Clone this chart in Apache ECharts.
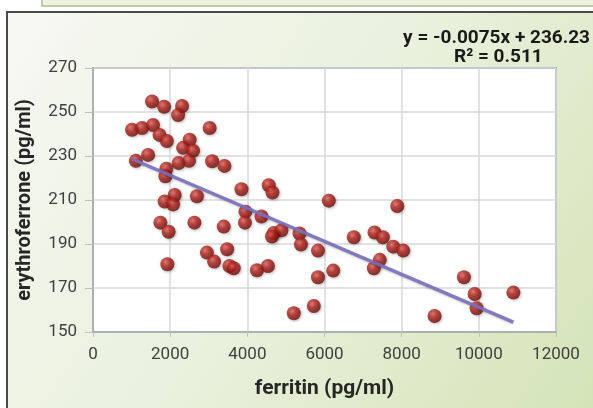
<!DOCTYPE html>
<html>
<head>
<meta charset="utf-8">
<script src="https://cdn.jsdelivr.net/npm/echarts@6/dist/echarts.min.js"></script>
<style>
  html, body { margin: 0; padding: 0; background: #fff; }
  #chart { width: 593px; height: 408px; }
</style>
</head>
<body>
<div id="chart"></div>
<script>
// ---- data ----
const ferritin = [
  1530, 1842, 2309, 2205, 1012, 1271, 1556, 1725, 1914, 3022,
  2506, 2335, 2594, 1427, 1110, 2220, 2490, 3087, 3406, 1901,
  1876, 2117, 1857, 2075, 2693, 3847, 4555, 4651, 1746, 1961,
  2628, 3388, 3951, 3938, 4366, 4685, 4885, 4638, 2952, 3139,
  3476, 3536, 3647, 4249, 4534, 1927, 6112, 7886, 5352, 5390,
  5831, 5831, 6226, 6760, 7297, 7512, 7782, 8041, 7434, 7279,
  5722, 5204, 8853, 9613, 9891, 9943, 10895
];
const erythroferrone = [
  254.8, 252.4, 252.7, 248.6, 241.9, 242.7, 244.1, 239.6, 236.8, 242.7,
  237.4, 233.7, 232.4, 230.5, 227.8, 226.8, 227.8, 227.6, 225.5, 224.2,
  220.8, 212.3, 209.3, 208.0, 211.7, 214.9, 216.7, 213.4, 199.7, 195.6,
  199.7, 197.9, 204.7, 199.7, 202.5, 195.0, 196.2, 193.4, 186.1, 182.0,
  187.6, 180.0, 179.0, 178.1, 180.0, 180.8, 209.7, 207.3, 194.8, 189.8,
  187.0, 174.9, 177.9, 193.1, 195.2, 193.1, 188.8, 187.0, 182.8, 179.0,
  161.8, 158.5, 157.3, 174.9, 167.3, 160.8, 167.9
];
// trendline as printed on the chart
const trendSlope = -0.0075;
const trendIntercept = 236.23;
const equationText = 'y = -0.0075x + 236.23';
const r2Text = 'R\u00B2 = 0.511';
// axes
const xRange = [0, 12000, 2000];
const yRange = [150, 270, 20];
const xTitle = 'ferritin (pg/ml)';
const yTitle = 'erythroferrone (pg/ml)';

const points = ferritin.map((x, i) => [x, erythroferrone[i]]);
const xMin = Math.min(...ferritin), xMax = Math.max(...ferritin);
const trend = [[xMin, trendSlope * xMin + trendIntercept], [xMax, trendSlope * xMax + trendIntercept]];

const FONT = 'Roboto, "Open Sans", sans-serif';
const chart = echarts.init(document.getElementById('chart'), null, { renderer: 'canvas' });
chart.setOption({
  animation: false,
  backgroundColor: '#ffffff',
  graphic: [
    { type: 'rect', z: -10, shape: { x: 0, y: 0, width: 593, height: 408 },
      style: { fill: '#ffffff' } },
    { type: 'rect', z: -9, shape: { x: 7, y: 12, width: 600, height: 410 },
      style: {
        fill: { type: 'linear', x: 0, y: 0, x2: 1, y2: 1, colorStops: [
          { offset: 0, color: '#f7f8f3' }, { offset: 0.5, color: '#e9f0dc' }, { offset: 1, color: '#d3e3b5' } ] },
        stroke: '#4a4a4a', lineWidth: 2 } },
    { type: 'rect', z: -8, shape: { x: 42, y: -4, width: 560, height: 10 },
      style: { fill: '#eef3e1', stroke: '#a8bd8a', lineWidth: 1.5 } },
    { type: 'text', z: 10, right: 3, top: 29,
      style: { text: equationText, font: 'bold 19px ' + FONT, fill: '#1a1a1a', textAlign: 'right' } },
    { type: 'text', z: 10, left: 454, top: 48,
      style: { text: r2Text, font: 'bold 19px ' + FONT, fill: '#1a1a1a' } }
  ],
  grid: {
    left: 93, top: 68, right: 37, bottom: 76,
    show: true, backgroundColor: '#ffffff', borderColor: '#8d9db5', borderWidth: 2
  },
  xAxis: {
    type: 'value', min: xRange[0], max: xRange[1], interval: xRange[2],
    name: xTitle, nameLocation: 'middle', nameGap: 46,
    nameTextStyle: { fontFamily: FONT, fontWeight: 'bold', fontSize: 21, color: '#262626' },
    axisLine: { show: true, lineStyle: { color: '#a6a6a6', width: 1.5 } },
    axisTick: { show: true, length: 5, lineStyle: { color: '#bfbfbf' } },
    axisLabel: { fontFamily: FONT, fontSize: 17, color: '#404040', margin: 14,
      formatter: v => String(v) },
    splitLine: { show: true, lineStyle: { color: '#d9d9d9', width: 1.5 } }
  },
  yAxis: {
    type: 'value', min: yRange[0], max: yRange[1], interval: yRange[2],
    name: yTitle, nameLocation: 'middle', nameGap: 58, nameRotate: 90,
    nameTextStyle: { fontFamily: FONT, fontWeight: 'bold', fontSize: 20, color: '#262626' },
    axisLine: { show: true, lineStyle: { color: '#a6a6a6', width: 1.5 } },
    axisTick: { show: true, length: 8, lineStyle: { color: '#bfbfbf' } },
    axisLabel: { fontFamily: FONT, fontSize: 17, color: '#404040', margin: 16,
      formatter: v => String(v) },
    splitLine: { show: true, lineStyle: { color: '#d9d9d9', width: 1.5 } }
  },
  series: [
    {
      type: 'scatter', data: points, symbol: 'circle', symbolSize: 14, z: 2,
      itemStyle: {
        color: { type: 'radial', x: 0.38, y: 0.35, r: 0.7, colorStops: [
          { offset: 0, color: '#e46a66' }, { offset: 0.4, color: '#b3231c' }, { offset: 1, color: '#650b09' } ] },
        shadowBlur: 3, shadowColor: 'rgba(0,0,0,0.35)', shadowOffsetX: 1, shadowOffsetY: 1
      }
    },
    {
      type: 'line', data: trend, symbol: 'none', z: 3,
      lineStyle: { color: '#7a6fbd', width: 3.5, opacity: 0.9,
        shadowBlur: 2, shadowColor: 'rgba(0,0,0,0.25)', shadowOffsetY: 1 }
    }
  ]
});
</script>
</body>
</html>
